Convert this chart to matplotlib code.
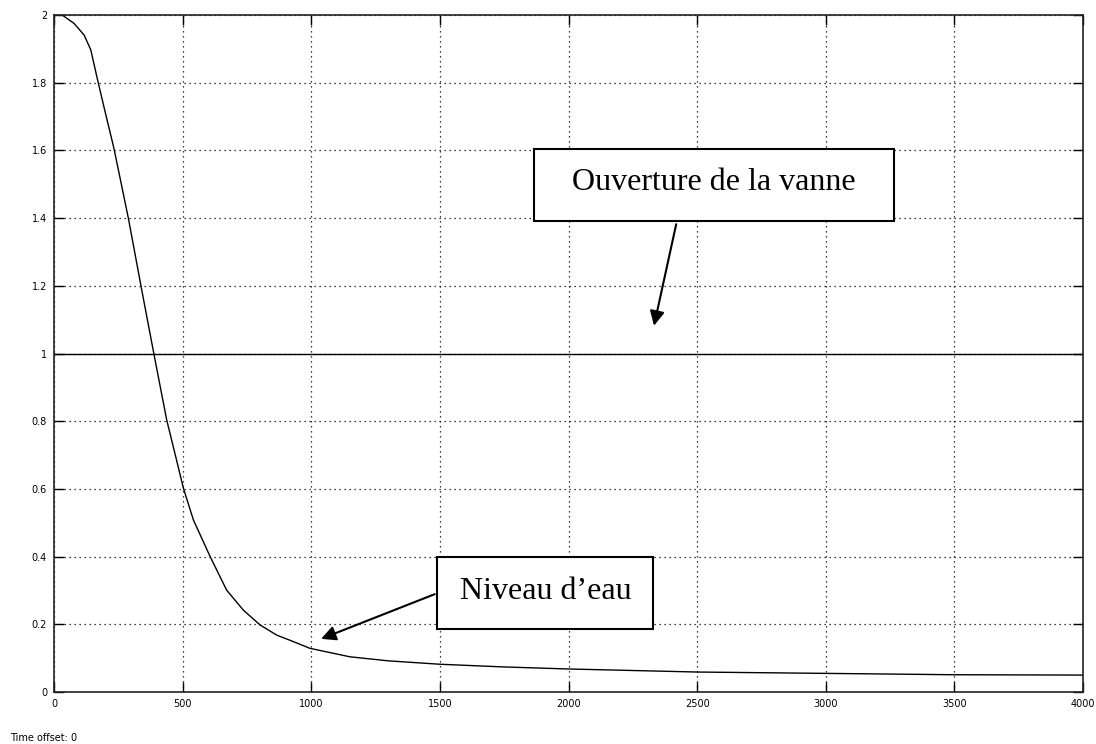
import numpy as np
import matplotlib
matplotlib.use('Agg')
import matplotlib.pyplot as plt
from matplotlib.patches import Rectangle

# water level
t_niveau = [0, 32, 78, 117, 143, 168, 194, 233, 289, 338, 388, 438, 470, 503, 542, 607,
            671, 736, 801, 866, 930, 995, 1150, 1300, 1500, 1750, 2000, 2500, 3000, 3500, 4000]
niveau = [2.0, 2.0, 1.975, 1.941, 1.897, 1.813, 1.729, 1.606, 1.4, 1.2, 1.0, 0.804, 0.705,
          0.602, 0.508, 0.400, 0.301, 0.242, 0.198, 0.168, 0.149, 0.129, 0.104, 0.092,
          0.082, 0.074, 0.068, 0.059, 0.055, 0.051, 0.050]

# valve opening
t_vanne = [0, 4000]
vanne = [1.0, 1.0]

x_ticks = [0, 500, 1000, 1500, 2000, 2500, 3000, 3500, 4000]
y_ticks = [0, 0.2, 0.4, 0.6, 0.8, 1, 1.2, 1.4, 1.6, 1.8, 2]
y_labels = ['0', '0.2', '0.4', '0.6', '0.8', '1', '1.2', '1.4', '1.6', '1.8', '2']

fig = plt.figure(figsize=(10.96, 7.44), dpi=100)
ax = fig.add_axes([54/1096, 52/744, 1029/1096, 677/744])

ax.plot(t_niveau, niveau, color='black', lw=1.0)
ax.plot(t_vanne, vanne, color='black', lw=1.0)

ax.set_xlim(0, 4000)
ax.set_ylim(0, 2)
ax.set_xticks(x_ticks)
ax.set_yticks(y_ticks)
ax.set_yticklabels(y_labels)
ax.tick_params(direction='in', length=7, width=1, top=True, right=True,
               labelsize=7, pad=5)
ax.grid(True, color='black', linestyle=(0, (1, 3)), linewidth=0.9)
for sp in ax.spines.values():
    sp.set_linewidth(1.2)
    sp.set_color('#222222')

# annotation boxes
serif = ['Liberation Serif', 'DejaVu Serif']
ax.add_patch(Rectangle((1864, 1.392), 1400, 0.211, fill=True, facecolor='white',
                       edgecolor='black', lw=1.5, zorder=5))
ax.text(2564, 1.505, 'Ouverture de la vanne', family=serif, fontsize=23,
        ha='center', va='center', zorder=6)
ax.annotate('', xy=(2330, 1.074), xytext=(2421, 1.390),
            arrowprops=dict(arrowstyle='-|>', color='black', lw=1.5, mutation_scale=22),
            zorder=6)

ax.add_patch(Rectangle((1490, 0.185), 840, 0.213, fill=True, facecolor='white',
                       edgecolor='black', lw=1.5, zorder=5))
ax.text(1910, 0.298, 'Niveau d\u2019eau', family=serif, fontsize=23,
        ha='center', va='center', zorder=6)
ax.annotate('', xy=(1028, 0.154), xytext=(1490, 0.292),
            arrowprops=dict(arrowstyle='-|>', color='black', lw=1.5, mutation_scale=22),
            zorder=6)

fig.text(10/1096, 1 - 738/744, 'Time offset: 0', fontsize=7, va='center', ha='left')

fig.savefig('out.png', dpi=100)
